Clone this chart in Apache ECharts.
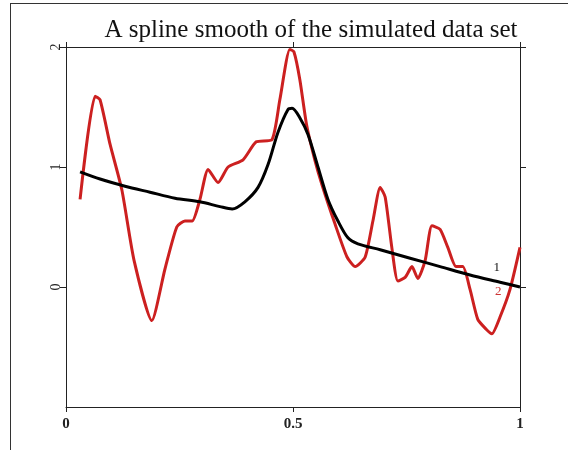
<!DOCTYPE html>
<html>
<head>
<meta charset="utf-8">
<script src="https://cdn.jsdelivr.net/npm/echarts@6/dist/echarts.min.js"></script>
<style>html,body{margin:0;padding:0;background:#fff}#c{width:568px;height:450px}</style>
</head>
<body>
<div id="c"></div>
<script>
var titleText = "A spline smooth of the simulated data set";
var xTicks = [0, 0.5, 1];
var yTicks = [0, 1, 2];
var redX = [0.031,0.064,0.075,0.097,0.123,0.150,0.189,0.218,0.244,0.262,0.278,0.295,0.313,0.335,0.357,0.390,0.419,0.454,0.471,0.493,0.502,0.515,0.530,0.548,0.564,0.593,0.619,0.637,0.659,0.676,0.692,0.703,0.718,0.731,0.747,0.762,0.775,0.791,0.806,0.824,0.841,0.859,0.874,0.890,0.907,0.925,0.938,0.956,0.978,1.000];
var redY = [0.73,1.59,1.56,1.19,0.81,0.22,-0.28,0.15,0.50,0.55,0.55,0.73,0.98,0.87,1.00,1.06,1.21,1.23,1.56,1.98,1.96,1.73,1.35,1.06,0.85,0.52,0.25,0.17,0.25,0.55,0.83,0.75,0.32,0.05,0.08,0.17,0.07,0.22,0.51,0.48,0.33,0.17,0.17,-0.02,-0.27,-0.35,-0.39,-0.25,-0.02,0.33];
var blackX = [0.031,0.075,0.130,0.185,0.240,0.295,0.339,0.366,0.394,0.423,0.445,0.467,0.489,0.498,0.515,0.533,0.555,0.577,0.599,0.621,0.643,0.692,0.758,0.824,0.890,0.956,1.000];
var blackY = [0.96,0.90,0.84,0.79,0.74,0.71,0.67,0.65,0.71,0.83,1.02,1.29,1.48,1.49,1.41,1.27,1.00,0.73,0.55,0.41,0.36,0.31,0.24,0.17,0.10,0.04,0.00];
var curveLabels = [{name:"1", x:0.949, y:0.16}, {name:"2", x:0.952, y:-0.04}];

function zip(a,b){return a.map(function(v,i){return [v,b[i]];});}
var serif = "Liberation Serif";
var axisCol = "#222";
function xAx(pos, showLabel){
  return {type:'value', position:pos, min:0, max:1, interval:0.5,
    axisLine:{show:true, onZero:false, lineStyle:{color:axisCol, width:1}},
    axisTick:{show:true, inside:false, length:5, lineStyle:{color:axisCol}},
    axisLabel:{show:showLabel, fontFamily:serif, fontSize:15, fontWeight:'bold', color:'#222', margin:10, formatter:function(v){return String(v);}},
    splitLine:{show:false}};
}
function yAx(pos, showLabel){
  return {type:'value', position:pos, min:-1, max:2, interval:1,
    axisLine:{show:true, onZero:false, lineStyle:{color:axisCol, width:1}},
    axisTick:{show:true, inside:false, length:6, customValues:yTicks, lineStyle:{color:axisCol}},
    axisLabel:{show:showLabel, customValues:yTicks, rotate:90, fontFamily:serif, fontSize:14, color:'#222', margin:3},
    splitLine:{show:false}};
}
var chart = echarts.init(document.getElementById('c'), null, {renderer:'canvas'});
chart.setOption({
  animation:false,
  backgroundColor:'#fff',
  title:{text:titleText, left:306, textAlign:'center', top:13, textStyle:{fontFamily:serif, fontSize:25, fontWeight:'normal', color:'#111'}},
  grid:{left:66, right:48, top:47, bottom:43, containLabel:false},
  xAxis:[xAx('bottom', true), xAx('top', false)],
  yAxis:[yAx('left', true), yAx('right', false)],
  graphic:[
    {type:'line', shape:{x1:10, y1:3.5, x2:568, y2:3.5}, style:{stroke:'#333', lineWidth:1}},
    {type:'line', shape:{x1:10.5, y1:3, x2:10.5, y2:450}, style:{stroke:'#333', lineWidth:1}}
  ],
  series:[
    {type:'line', name:'2', data:zip(redX, redY), showSymbol:false, smooth:0.2, lineStyle:{color:'#cc2020', width:3}, z:2,
     markPoint:{symbolSize:0, data:[{coord:[curveLabels[1].x, curveLabels[1].y], value:curveLabels[1].name}],
       label:{show:true, formatter:curveLabels[1].name, fontFamily:serif, fontSize:13, color:'#cc3333'}}},
    {type:'line', name:'1', data:zip(blackX, blackY), showSymbol:false, smooth:0.3, lineStyle:{color:'#000', width:3}, z:3,
     markPoint:{symbolSize:0, data:[{coord:[curveLabels[0].x, curveLabels[0].y], value:curveLabels[0].name}],
       label:{show:true, formatter:curveLabels[0].name, fontFamily:serif, fontSize:13, color:'#111'}}}
  ]
});
</script>
</body>
</html>
